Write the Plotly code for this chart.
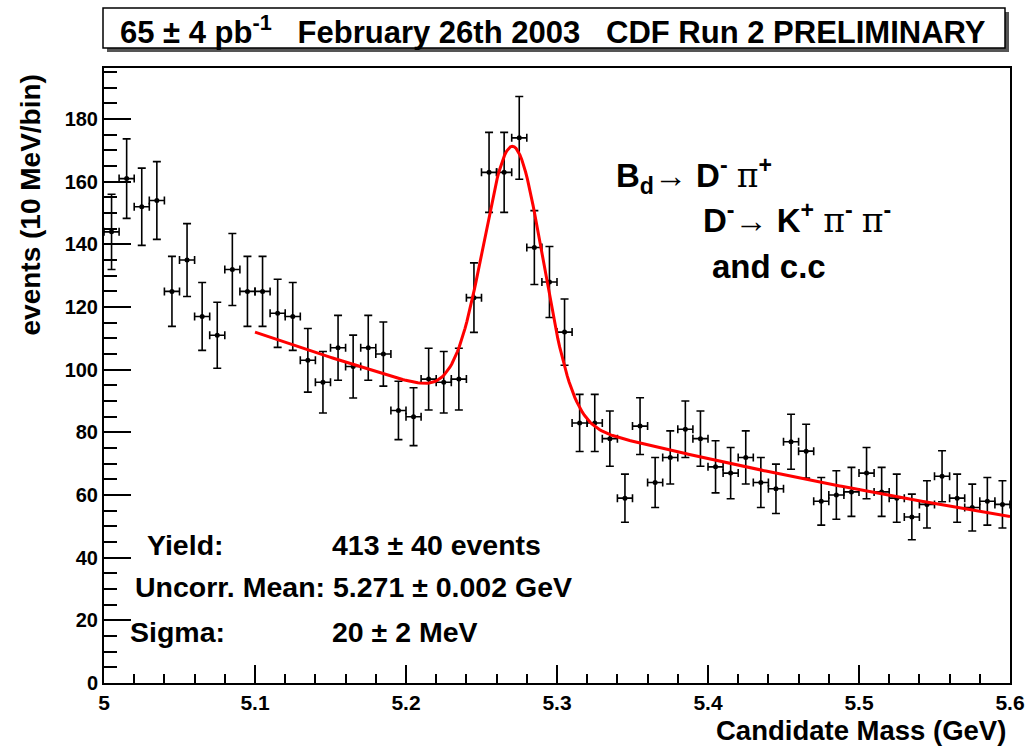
import numpy as np
import plotly.graph_objects as go

# ---- data ----
bin_lo, bin_width, n_bins = 5.0, 0.01, 60
mass = np.round(bin_lo + bin_width * (np.arange(n_bins) + 0.5), 4)
counts = [144, 161, 152, 154, 125, 135, 117, 111, 132, 125,
          125, 118, 117, 103, 96, 107, 101, 107, 105, 87,
          85, 97, 96, 97, 123, 163, 163, 174, 139, 128,
          112, 83, 83, 78, 59, 82, 64, 72, 81, 78,
          69, 67, 72, 64, 62, 77, 74, 58, 60, 61,
          67, 61, 59, 53, 57, 66, 59, 56, 58, 57]
errors = np.sqrt(np.array(counts, dtype=float))

# fit parameters (Gaussian signal + exponential background)
yield_sig = 413.0
mean_sig = 5.271
sigma_sig = 0.0195
bkg_ref_mass = 5.1
bkg_norm = 112.0
bkg_slope = -1.49
fit_range = (5.1, 5.6)

xf = np.linspace(fit_range[0], fit_range[1], 400)
gauss = yield_sig * bin_width / (sigma_sig * np.sqrt(2 * np.pi)) * np.exp(-0.5 * ((xf - mean_sig) / sigma_sig) ** 2)
fit = bkg_norm * np.exp(bkg_slope * (xf - bkg_ref_mass)) + gauss

FONT = "Liberation Sans, Arial, Helvetica, sans-serif"

fig = go.Figure()
fig.add_trace(go.Scatter(
    x=mass, y=counts, mode="markers",
    marker=dict(color="black", size=5),
    error_y=dict(type="data", array=errors, color="black", thickness=1.6, width=4),
    error_x=dict(type="constant", value=bin_width / 2, color="black", thickness=1.6, width=4),
    showlegend=False,
))
fig.add_trace(go.Scatter(
    x=xf, y=fit, mode="lines", line=dict(color="#ff0000", width=3), showlegend=False,
))

L, R, T, B = 104, 1010, 68, 683
W, H = 1036, 748
pw, ph = R - L, B - T


def px(x):
    return (x - L) / pw


def py(y):
    return (B - y) / ph


fig.update_layout(
    width=W, height=H,
    margin=dict(l=L, r=W - R, t=T, b=H - B, pad=0),
    paper_bgcolor="white", plot_bgcolor="white",
    font=dict(family=FONT, color="black"),
    xaxis=dict(range=[5.0, 5.6], tickmode="linear", tick0=5.0, dtick=0.1,
               ticks="inside", ticklen=18, tickwidth=1.5, tickcolor="black",
               minor=dict(dtick=0.02, ticks="inside", ticklen=9, tickwidth=1.5, tickcolor="black"),
               showline=True, linecolor="black", linewidth=2, mirror=True,
               showgrid=False, zeroline=False,
               tickfont=dict(size=21, family=FONT, weight="bold"),
               tickformat="~g"),
    yaxis=dict(range=[0, 196.3], tickmode="linear", tick0=0, dtick=20,
               ticks="inside", ticklen=27, tickwidth=1.5, tickcolor="black",
               minor=dict(dtick=5, ticks="inside", ticklen=13, tickwidth=1.5, tickcolor="black"),
               showline=True, linecolor="black", linewidth=2, mirror=True,
               showgrid=False, zeroline=False,
               tickfont=dict(size=20, family=FONT, weight="bold")),
)

# title box with shadow
fig.add_shape(type="rect", xref="paper", yref="paper",
              x0=px(107), x1=px(1009), y0=py(52), y1=py(12),
              fillcolor="#555555", line=dict(width=0), layer="above")
fig.add_shape(type="rect", xref="paper", yref="paper",
              x0=px(103), x1=px(1005), y0=py(48), y1=py(8),
              fillcolor="white", line=dict(color="black", width=1.5), layer="above")
fig.add_annotation(xref="paper", yref="paper", x=px(553), y=py(30),
                   text="65 ± 4 pb<sup>-1</sup>\u00a0\u00a0\u00a0February 26th 2003\u00a0\u00a0\u00a0CDF Run 2 PRELIMINARY",
                   showarrow=False, xanchor="center", yanchor="middle",
                   font=dict(size=31, family=FONT, weight="bold"))

# axis titles
fig.add_annotation(xref="paper", yref="paper", x=px(30), y=py(73),
                   text="events (10 MeV/bin)", textangle=-90, showarrow=False,
                   xanchor="center", yanchor="top",
                   font=dict(size=28, family=FONT, weight="bold"))
fig.add_annotation(xref="paper", yref="paper", x=px(1008), y=py(730),
                   text="Candidate Mass (GeV)", showarrow=False,
                   xanchor="right", yanchor="middle",
                   font=dict(size=27.5, family=FONT, weight="bold"))

# decay annotation
thin = "<span style='font-weight:normal'>%s</span>"
pi = "<span style='font-weight:normal;font-family:DejaVu Serif'>π</span>"
fig.add_annotation(xref="paper", yref="paper", x=px(614), y=py(175),
                   text="B<sub>d</sub>" + thin % "→" + " D<sup>-</sup> " + pi + "<sup>+</sup>",
                   showarrow=False, xanchor="left", yanchor="middle",
                   font=dict(size=33, family=FONT, weight="bold"))
fig.add_annotation(xref="paper", yref="paper", x=px(701), y=py(218),
                   text="D<sup>-</sup>" + thin % "→" + " K<sup>+</sup> " + pi + "<sup>-</sup> " + pi + "<sup>-</sup>",
                   showarrow=False, xanchor="left", yanchor="middle",
                   font=dict(size=33, family=FONT, weight="bold"))
fig.add_annotation(xref="paper", yref="paper", x=px(710), y=py(266),
                   text="and c.c", showarrow=False, xanchor="left", yanchor="middle",
                   font=dict(size=33, family=FONT, weight="bold"))

# fit results
stats = [
    (145, 545, "Yield:"), (330, 545, "413 ± 40 events"),
    (133, 587, "Uncorr. Mean: 5.271 ± 0.002 GeV"),
    (128, 632, "Sigma:"), (330, 632, "20 ± 2 MeV"),
]
for xx, yy, tt in stats:
    fig.add_annotation(xref="paper", yref="paper", x=px(xx), y=py(yy), text=tt,
                       showarrow=False, xanchor="left", yanchor="middle",
                       font=dict(size=28.5, family=FONT, weight="bold"))

fig.write_html("out.html")
